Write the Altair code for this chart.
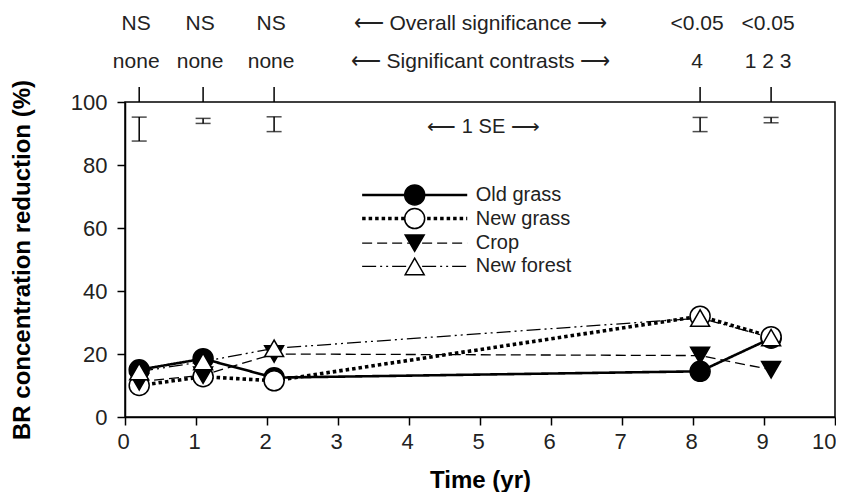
import altair as alt
import pandas as pd

# ---------------- data ----------------
times = [0.2, 1.1, 2.1, 8.1, 9.1]
series_names = ["Old grass", "New grass", "Crop", "New forest"]
old_grass = [15.0, 18.5, 12.5, 14.5, 25.0]
new_grass = [10.0, 12.8, 11.5, 32.0, 25.5]
crop = [11.2, 13.3, 20.0, 19.5, 15.0]
new_forest = [14.4, 17.6, 21.8, 31.4, 25.2]

se_high = [95.2, 94.8, 95.3, 95.1, 95.1]
se_low = [87.6, 93.2, 90.6, 90.6, 93.4]

overall_sig = ["NS", "NS", "NS", "<0.05", "<0.05"]
contrasts = ["none", "none", "none", "4", "1 2 3"]
sig_caption = "\u27f5 Overall significance \u27f6"
con_caption = "\u27f5 Significant contrasts \u27f6"
se_caption = "\u27f5 1 SE \u27f6"

x_ticks = list(range(0, 11))
y_ticks = [0, 20, 40, 60, 80, 100]

# ---------------- layout / style constants ----------------
FONT = "Liberation Sans"
caption_x = 5.05
se_caption_y = 92
legend_x0, legend_x1, legend_xm, legend_xt = 3.34, 4.82, 4.08, 4.94
legend_rows = [70.5, 63.0, 55.2, 47.8]

styles = {
    "Old grass": dict(dash=[1, 0], width=2.6, shape="circle", fill="black", size=400),
    "New grass": dict(dash=[3.5, 3], width=3.6, shape="circle", fill="white", size=400),
    "Crop": dict(dash=[10, 5], width=1.3, shape="triangle-down", fill="black", size=360),
    "New forest": dict(dash=[14, 4, 2, 4, 2, 4], width=1.3, shape="triangle-up", fill="white", size=360),
}

# ---------------- tables ----------------
values = {"Old grass": old_grass, "New grass": new_grass, "Crop": crop, "New forest": new_forest}
df = pd.DataFrame(
    {
        "t": [t for n in series_names for t in times],
        "v": [v for n in series_names for v in values[n]],
        "s": [n for n in series_names for _ in times],
    }
)
se_df = pd.DataFrame({"t": times, "lo": se_low, "hi": se_high})
top_df = pd.DataFrame(
    {
        "t": times + [caption_x],
        "sig": overall_sig + [sig_caption],
        "con": contrasts + [con_caption],
    }
)
se_lab_df = pd.DataFrame({"t": [caption_x], "v": [se_caption_y], "lab": [se_caption]})
leg_df = pd.DataFrame(
    {
        "s": series_names,
        "v": legend_rows,
        "t0": [legend_x0] * 4,
        "t1": [legend_x1] * 4,
        "tm": [legend_xm] * 4,
        "tt": [legend_xt] * 4,
    }
)

xs = alt.Scale(domain=[0, 10], nice=False, zero=False)
ys = alt.Scale(domain=[0, 100], nice=False)

x_axis = alt.Axis(
    values=x_ticks, title="Time (yr)", labelFlush=False,
    labelAlign={"condition": {"test": "datum.value >= 10", "value": "right"}, "value": "center"},
    labelOffset={"condition": {"test": "datum.value >= 10", "value": 1}, "value": -2},
    labelPadding=6, titlePadding=16, format="d",
)
y_axis = alt.Axis(values=y_ticks, title="BR concentration reduction (%)",
                  labelPadding=10, titlePadding=36, format="d")


def X(field):
    return alt.X(f"{field}:Q", scale=xs, axis=x_axis, title="Time (yr)")


def Y(field):
    return alt.Y(f"{field}:Q", scale=ys, axis=y_axis, title="BR concentration reduction (%)")


layers = []

# series lines
for n in series_names:
    st = styles[n]
    layers.append(
        alt.Chart(df).transform_filter(alt.datum.s == n).mark_line(
            color="black", strokeWidth=st["width"], strokeDash=st["dash"], strokeCap="butt"
        ).encode(x=X("t"), y=Y("v"))
    )

# series markers
for n in series_names:
    st = styles[n]
    layers.append(
        alt.Chart(df).transform_filter(alt.datum.s == n).mark_point(
            shape=st["shape"], filled=True, fill=st["fill"], stroke="black",
            strokeWidth=1.5, size=st["size"], opacity=1
        ).encode(x=X("t"), y=Y("v"))
    )

# SE bars
layers.append(
    alt.Chart(se_df).mark_rule(color="black", strokeWidth=1.5).encode(
        x=X("t"), y=Y("lo"), y2="hi:Q",
    )
)
for f in ["lo", "hi"]:
    layers.append(
        alt.Chart(se_df).mark_tick(color="black", orient="horizontal", size=15, thickness=1.5).encode(
            x=X("t"), y=Y(f),
        )
    )

# top ticks at sampling times
layers.append(
    alt.Chart(se_df).mark_rule(color="black", strokeWidth=1.5).encode(
        x=X("t"), y=alt.value(0), y2=alt.value(-15),
    )
)

# top text rows
layers.append(
    alt.Chart(top_df).mark_text(font=FONT, fontSize=21, color="#222", baseline="alphabetic", dx=-3).encode(
        x=X("t"), y=alt.value(-72), text="sig:N"
    )
)
layers.append(
    alt.Chart(top_df).mark_text(font=FONT, fontSize=21, color="#222", baseline="alphabetic", dx=-3).encode(
        x=X("t"), y=alt.value(-34), text="con:N"
    )
)
layers.append(
    alt.Chart(se_lab_df).mark_text(font=FONT, fontSize=20, color="#222", baseline="middle").encode(
        x=X("t"), y=Y("v"), text="lab:N"
    )
)

# legend
for n in series_names:
    st = styles[n]
    layers.append(
        alt.Chart(leg_df).transform_filter(alt.datum.s == n).mark_rule(
            color="black", strokeWidth=st["width"], strokeDash=st["dash"], strokeCap="butt"
        ).encode(x=X("t0"), x2="t1:Q", y=Y("v"))
    )
for n in series_names:
    st = styles[n]
    layers.append(
        alt.Chart(leg_df).transform_filter(alt.datum.s == n).mark_point(
            shape=st["shape"], filled=True, fill=st["fill"], stroke="black",
            strokeWidth=1.5, size=st["size"], opacity=1
        ).encode(x=X("tm"), y=Y("v"))
    )
layers.append(
    alt.Chart(leg_df).mark_text(font=FONT, fontSize=20, color="#222", align="left", baseline="middle").encode(
        x=X("tt"), y=Y("v"), text="s:N"
    )
)

chart = (
    alt.layer(*layers)
    .properties(
        width=710,
        height=315,
        padding={"left": 117, "top": 94, "right": 1, "bottom": 75},
        autosize=alt.AutoSizeParams(type="none"),
        background="white",
    )
    .configure_view(stroke="black", strokeWidth=1.5)
    .configure_axis(
        grid=False,
        domainColor="black",
        domainWidth=1.5,
        tickColor="black",
        tickWidth=1.5,
        tickSize=8,
        labelFont=FONT,
        labelFontSize=22,
        labelColor="#222",
        titleFont=FONT,
        titleFontSize=24,
        titleFontWeight="bold",
        titleColor="black",
    )
)

chart.save("out.html", embed_options={"renderer": "svg", "actions": False})
